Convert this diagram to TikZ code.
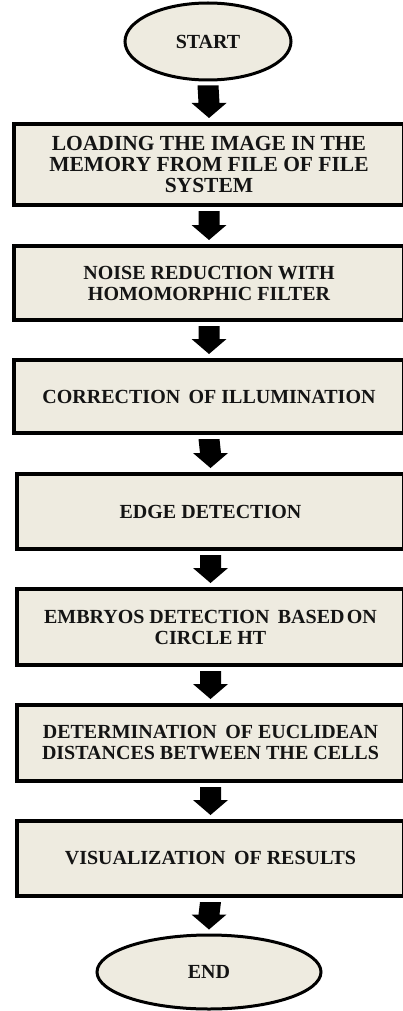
\documentclass[tikz,border=0pt]{standalone}
\usepackage{fontspec}
\setmainfont{Liberation Serif}
\usetikzlibrary{shapes.geometric,calc}
\definecolor{boxfill}{RGB}{238,235,224}
\definecolor{inkcol}{RGB}{20,20,20}
\newcommand{\wgap}{\hspace{0.42em}}
\tikzset{
  x=1pt, y=-1pt,
  stepbox/.style={draw=black, line width=4pt, fill=boxfill, rectangle,
    minimum width=390pt, inner sep=0pt, align=center, text=inkcol,
    font=\fontsize{20}{21}\selectfont\bfseries},
  termnode/.style={draw=black, line width=3pt, fill=boxfill, ellipse,
    inner sep=0pt, text=inkcol, font=\fontsize{20}{21}\selectfont\bfseries},
  flowarrow/.style={fill=black, draw=none}
}
% thick block arrow from the bottom of #1 to the top of #2
\newcommand{\blockarrow}[2]{%
  \fill[flowarrow] ($(#1.south)+(-10.5,4)$) -- ($(#1.south)+(10.5,4)$)
    -- ($(#2.north)+(10.5,-19)$) -- ($(#2.north)+(17.5,-19)$)
    -- ($(#2.north)+(0,-4)$) -- ($(#2.north)+(-17.5,-19)$)
    -- ($(#2.north)+(-10.5,-19)$) -- cycle;}
\begin{document}
\begin{tikzpicture}
\useasboundingbox (0,0) rectangle (402,1011);
\fill[white] (0,0) rectangle (402,1011);

\node[termnode, minimum width=166pt, minimum height=77pt] (start) at (208,41.5) {START};

\node[stepbox, minimum height=81pt, font=\fontsize{21.5}{21}\selectfont\bfseries] (s1) at (209,164.5)
  {LOADING THE IMAGE IN THE\\ MEMORY FROM FILE OF FILE\\ SYSTEM};
\node[stepbox, minimum height=74pt] (s2) at (209,283)
  {NOISE REDUCTION WITH\\ HOMOMORPHIC FILTER};
\node[stepbox, minimum height=73pt] (s3) at (209,396.5)
  {CORRECTION\wgap OF ILLUMINATION};
\node[stepbox, minimum height=75pt, minimum width=387pt] (s4) at (210.5,511.5)
  {EDGE DETECTION};
\node[stepbox, minimum height=76pt, minimum width=387pt] (s5) at (210.5,627)
  {EMBRYOS DETECTION\wgap BASED\hspace{0.12em}ON\\ CIRCLE HT};
\node[stepbox, minimum height=76pt, minimum width=387pt] (s6) at (210.5,743)
  {DETERMINATION\wgap OF EUCLIDEAN\\ DISTANCES BETWEEN THE CELLS};
\node[stepbox, minimum height=75pt, minimum width=387pt] (s7) at (210.5,858.5)
  {VISUALIZATION\wgap OF RESULTS};

\node[termnode, minimum width=224pt, minimum height=74pt] (stop) at (209,972) {END};

\blockarrow{start}{s1}
\blockarrow{s1}{s2}
\blockarrow{s2}{s3}
\blockarrow{s3}{s4}
\blockarrow{s4}{s5}
\blockarrow{s5}{s6}
\blockarrow{s6}{s7}
\blockarrow{s7}{stop}
\end{tikzpicture}
\end{document}
